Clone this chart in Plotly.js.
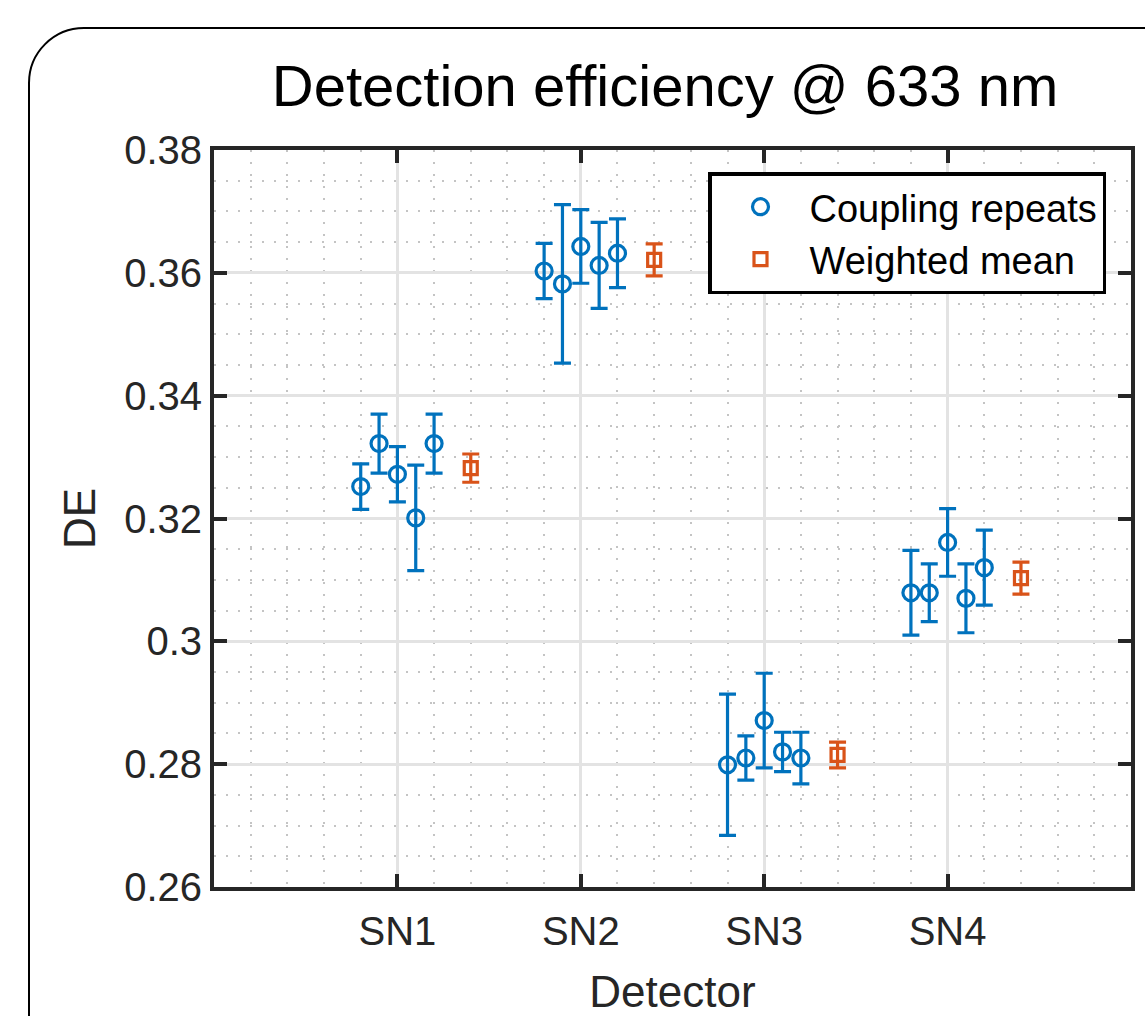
<!DOCTYPE html>
<html>
<head>
<meta charset="utf-8">
<script src="https://cdn.plot.ly/plotly-3.0.1.min.js"></script>
<style>
  html, body { margin: 0; padding: 0; background: #ffffff; overflow: hidden; }
  #frame { position: absolute; left: 28px; top: 27px; width: 1300px; height: 1200px;
           border: 2px solid #000; border-radius: 56px; box-sizing: border-box; }
  #chart { position: absolute; left: 0; top: 0; width: 1145px; height: 1016px; }
</style>
</head>
<body>
<div id="frame"></div>
<div id="chart"></div>
<script>
// ---- data ----
const categories = ['SN1', 'SN2', 'SN3', 'SN4'];

const sn1DE  = [0.3252, 0.3322, 0.3272, 0.3201, 0.3322];
const sn1Err = [0.0037, 0.0048, 0.0045, 0.0086, 0.0048];
const sn2DE  = [0.3603, 0.3582, 0.3643, 0.3612, 0.3632];
const sn2Err = [0.0045, 0.0129, 0.0060, 0.0070, 0.0056];
const sn3DE  = [0.2799, 0.2810, 0.2871, 0.2820, 0.2810];
const sn3Err = [0.0115, 0.0036, 0.0077, 0.0032, 0.0042];
const sn4DE  = [0.3079, 0.3079, 0.3161, 0.3070, 0.3120];
const sn4Err = [0.0069, 0.0047, 0.0055, 0.0056, 0.0061];

const meanDE  = [0.3282, 0.3621, 0.2815, 0.3103];
const meanErr = [0.0023, 0.0026, 0.0021, 0.0026];

const yTickVals = [0.26, 0.28, 0.30, 0.32, 0.34, 0.36, 0.38];
const yTickText = ['0.26', '0.28', '0.3', '0.32', '0.34', '0.36', '0.38'];

// ---- build traces ----
const repeatsDE  = [sn1DE, sn2DE, sn3DE, sn4DE];
const repeatsErr = [sn1Err, sn2Err, sn3Err, sn4Err];
const repX = [], repY = [], repE = [];
repeatsDE.forEach((vals, i) => {
  vals.forEach((v, j) => {
    repX.push(i + 1 + (j - 2) * 0.1);
    repY.push(v);
    repE.push(repeatsErr[i][j]);
  });
});
const meanX = categories.map((c, i) => i + 1 + 0.4);

const BLUE = '#0072BD', ORANGE = '#D95319', AX = '#262626';
const FONT = '"Liberation Sans", Arial, Helvetica, sans-serif';

const traces = [
  {
    x: repX, y: repY, type: 'scatter', mode: 'markers', name: 'Coupling repeats',
    marker: { symbol: 'circle-open', size: 16, color: BLUE, line: { width: 3.2, color: BLUE } },
    error_y: { type: 'data', array: repE, visible: true, color: BLUE, thickness: 3.2, width: 8.5 }
  },
  {
    x: meanX, y: meanDE, type: 'scatter', mode: 'markers', name: 'Weighted mean',
    marker: { symbol: 'square-open', size: 13, color: ORANGE, line: { width: 3.2, color: ORANGE } },
    error_y: { type: 'data', array: meanErr, visible: true, color: ORANGE, thickness: 3.2, width: 8.5 }
  }
];

const layout = {
  width: 1145, height: 1016,
  margin: { l: 214, r: 14, t: 150, b: 129, pad: 0 },
  paper_bgcolor: 'rgba(0,0,0,0)', plot_bgcolor: '#ffffff',
  font: { family: FONT, color: AX },
  showlegend: true,
  title: {
    text: 'Detection efficiency @ 633 nm',
    font: { family: FONT, size: 58, color: '#000000' },
    xref: 'container', x: 665 / 1145, xanchor: 'center',
    yref: 'container', y: 1 - 86 / 1016, yanchor: 'middle'
  },
  xaxis: {
    range: [0, 5], tickmode: 'array', tickvals: [1, 2, 3, 4], ticktext: categories,
    ticks: 'inside', ticklen: 13, tickwidth: 4, tickcolor: AX,
    showline: true, linecolor: AX, linewidth: 4, mirror: 'ticks',
    showgrid: true, gridcolor: '#e3e3e3', gridwidth: 3,
    minor: { dtick: 0.2, showgrid: true, gridcolor: '#c4c4c4', gridwidth: 2, griddash: '2px,10px', ticks: '' },
    zeroline: false, ticklabelstandoff: 6,
    tickfont: { family: FONT, size: 40, color: AX },
    title: { text: 'Detector', font: { family: FONT, size: 44, color: AX }, standoff: 26 }
  },
  yaxis: {
    range: [0.26, 0.38], tickmode: 'array', tickvals: yTickVals, ticktext: yTickText,
    ticks: 'inside', ticklen: 13, tickwidth: 4, tickcolor: AX,
    showline: true, linecolor: AX, linewidth: 4, mirror: 'ticks',
    showgrid: true, gridcolor: '#e3e3e3', gridwidth: 3,
    minor: { dtick: 0.005, showgrid: true, gridcolor: '#c4c4c4', gridwidth: 2, griddash: '2px,10px', ticks: '' },
    zeroline: false,
    tickfont: { family: FONT, size: 40, color: AX },
    title: { text: 'DE', font: { family: FONT, size: 44, color: AX }, standoff: 16 }
  },
  legend: {
    x: (708 - 214) / 917, y: (887 - 172) / 737, xanchor: 'left', yanchor: 'top',
    bgcolor: '#ffffff', bordercolor: '#000000', borderwidth: 3.5,
    font: { family: FONT, size: 38, color: '#000000' },
    itemwidth: 88, tracegroupgap: 0
  }
};

Plotly.newPlot('chart', traces, layout, { displayModeBar: false, staticPlot: true });
</script>
</body>
</html>
